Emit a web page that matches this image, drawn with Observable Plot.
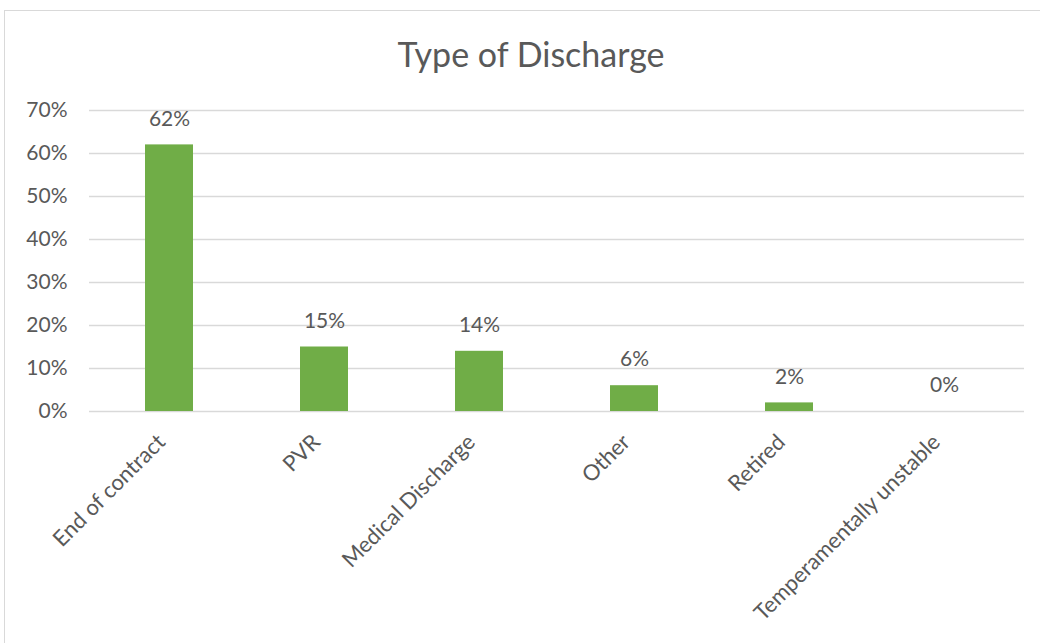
<!DOCTYPE html>
<html>
<head>
<meta charset="utf-8">
<script src="https://cdn.jsdelivr.net/npm/d3@7"></script>
<script src="https://cdn.jsdelivr.net/npm/@observablehq/plot@0.6"></script>
<style>
  html, body { margin: 0; padding: 0; background: #fff; }
  #wrap { position: relative; width: 1040px; height: 643px; overflow: hidden; font-family: Lato, "Open Sans", sans-serif; }
  #frame { position: absolute; left: 4px; top: 10px; width: 1100px; height: 700px; border: 1px solid #d9d9d9; box-sizing: border-box; }
  #title { position: absolute; left: 0; width: 1062px; top: 33px; text-align: center; font-size: 34px; color: #595959; line-height: 42px; }
  #chart { position: absolute; left: 0; top: 0; }
</style>
</head>
<body>
<div id="wrap">
  <div id="frame"></div>
  <div id="chart"></div>
  <div id="title">Type of Discharge</div>
</div>
<script>
const categories = ["End of contract", "PVR", "Medical Discharge", "Other", "Retired", "Temperamentally unstable"];
const values = [0.62, 0.15, 0.14, 0.06, 0.02, 0.0];
const yTicks = [0, 0.1, 0.2, 0.3, 0.4, 0.5, 0.6, 0.7];

const data = categories.map((c, i) => ({category: c, value: values[i]}));
const pct = d3.format(".0%");

const chart = Plot.plot({
  width: 1040,
  height: 643,
  marginLeft: 89,
  marginRight: 16,
  marginTop: 110,
  marginBottom: 232,
  style: {fontFamily: "Lato, 'Open Sans', sans-serif", background: "transparent", color: "#595959"},
  x: {domain: categories, paddingInner: 0.69, paddingOuter: 0.345, align: 0.5},
  y: {domain: [0, 0.7]},
  marks: [
    Plot.ruleY(yTicks, {stroke: "#d9d9d9", strokeWidth: 1.3}),
    Plot.axisY({ticks: yTicks, tickFormat: pct, tickSize: 0, tickPadding: 22, fontSize: 21, fill: "#595959", label: null}),
    Plot.axisX({tickRotate: -45, tickSize: 0, tickPadding: 27, dx: -8, fontSize: 22, fill: "#595959", label: null}),
    Plot.barY(data, {x: "category", y: "value", fill: "#70ad47"}),
    Plot.text(data, {x: "category", y: "value", text: d => pct(d.value), dy: -26, fontSize: 21, fill: "#595959"})
  ]
});
document.getElementById("chart").appendChild(chart);
</script>
</body>
</html>
